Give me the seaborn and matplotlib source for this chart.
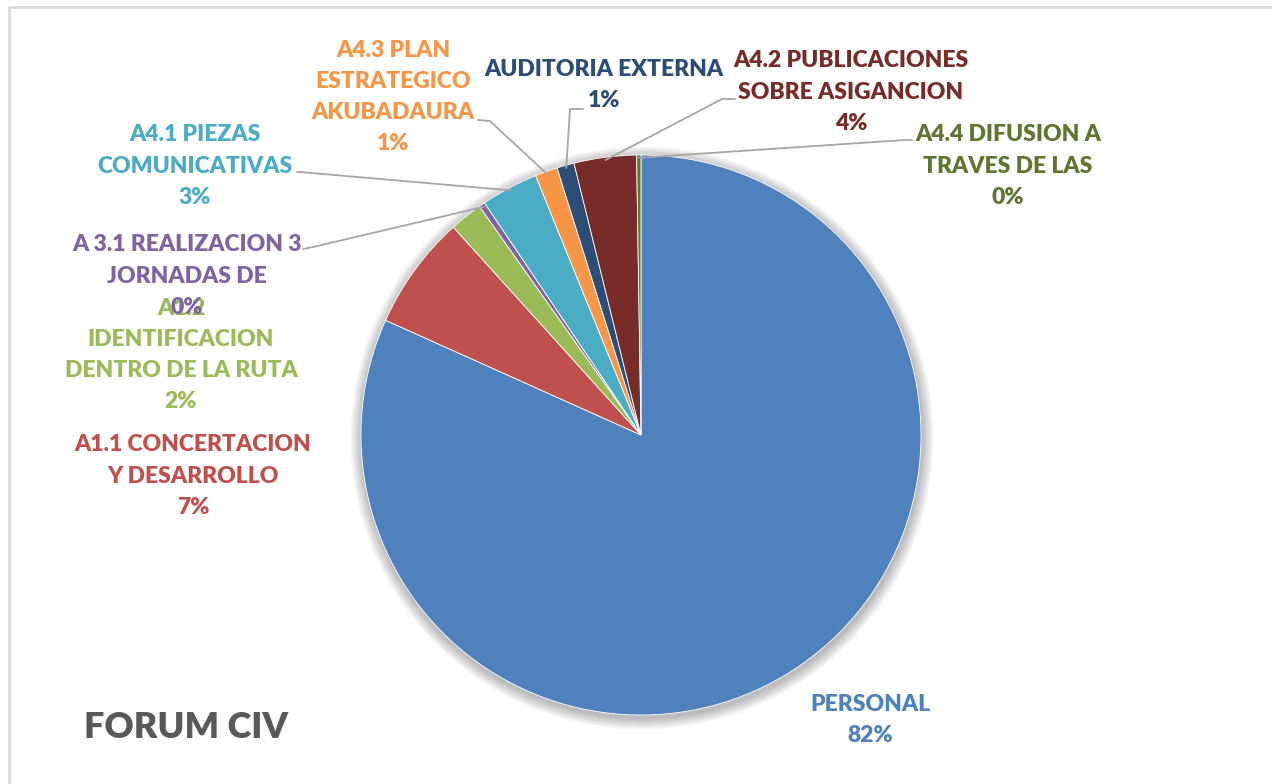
import numpy as np
import matplotlib.pyplot as plt
import seaborn as sns
from matplotlib.patches import Circle

# datos del grafico (porcentaje del presupuesto)
categorias = ["PERSONAL", "A1.1 CONCERTACION\nY DESARROLLO", "A1.2\nIDENTIFICACION\nDENTRO DE LA RUTA",
              "A 3.1 REALIZACION 3\nJORNADAS DE", "A4.1 PIEZAS\nCOMUNICATIVAS",
              "A4.3 PLAN\nESTRATEGICO\nAKUBADAURA", "AUDITORIA EXTERNA",
              "A4.2 PUBLICACIONES\nSOBRE ASIGANCION", "A4.4 DIFUSION A\nTRAVES DE LAS"]
valores = [81.8, 6.6, 1.9, 0.35, 3.3, 1.3, 1.0, 3.6, 0.25]
colores = ["#4F81BD", "#C0504D", "#9BBB59", "#8064A2", "#4BACC6",
           "#F79646", "#2C4D75", "#772C2A", "#5F7530"]
titulo = "FORUM CIV"

sns.set_theme(style="white")
plt.rcParams['font.family'] = ['Lato', 'DejaVu Sans']

W, H = 1272, 784
fig = plt.figure(figsize=(W / 100, H / 100), dpi=100)
ax = fig.add_axes([0, 0, 1, 1])
ax.set_xlim(0, W)
ax.set_ylim(0, H)
ax.set_aspect('equal')
ax.axis('off')

cx, cy, r = 641, H - 435, 280

# sombra suave alrededor del pastel
for k in range(8):
    ax.add_patch(Circle((cx + 1, cy - 3), r + 1 + k * 1.5, color='black',
                        alpha=0.035, lw=0, zorder=1))

wedges, _ = ax.pie(valores, colors=colores, startangle=90, counterclock=False,
                   center=(cx, cy), radius=r, frame=True,
                   wedgeprops=dict(edgecolor='white', linewidth=0.6, zorder=2))
ax.set_xlim(0, W)
ax.set_ylim(0, H)
ax.axis('off')

total = sum(valores)
pct = [f"{round(v / total * 100):.0f}%" for v in valores]

# posicion de etiquetas (px desde arriba) y lineas guia
pos = [(870, 720), (193, 476), (181, 355), (187, 276), (195, 166),
       (393, 97), (604, 85), (851, 92), (1008, 166)]
guias = {3: [(303, 249), (313, 247)], 4: [(297, 172), (300, 172)],
         5: [(478, 120), (490, 121)], 6: [(583, 109), (570, 109)],
         7: [(735, 99), (722, 99)], 8: [(912, 140), (905, 140)]}

for i, (w, col) in enumerate(zip(wedges, colores)):
    x, y = pos[i]
    ax.text(x, H - y, categorias[i] + "\n" + pct[i], ha='center', va='center',
            color=col, fontsize=16.5, fontweight='heavy', linespacing=1.6, zorder=5)
    if i in guias:
        ang = np.deg2rad((w.theta1 + w.theta2) / 2)
        ex, ey = cx + r * 0.99 * np.cos(ang), cy + r * 0.99 * np.sin(ang)
        pts = [(px, H - py) for px, py in guias[i]] + [(ex, ey)]
        ax.plot([p[0] for p in pts], [p[1] for p in pts], color='#A6A6A6',
                lw=1.3, zorder=4)

ax.text(84, H - 727, titulo, ha='left', va='center', color='#595959',
        fontsize=26, fontweight='heavy')

# marco del grafico
ax.plot([9, 9, W], [0, H - 7, H - 7], color='#D9D9D9', lw=2, zorder=0)

fig.savefig("out.png", dpi=100)
